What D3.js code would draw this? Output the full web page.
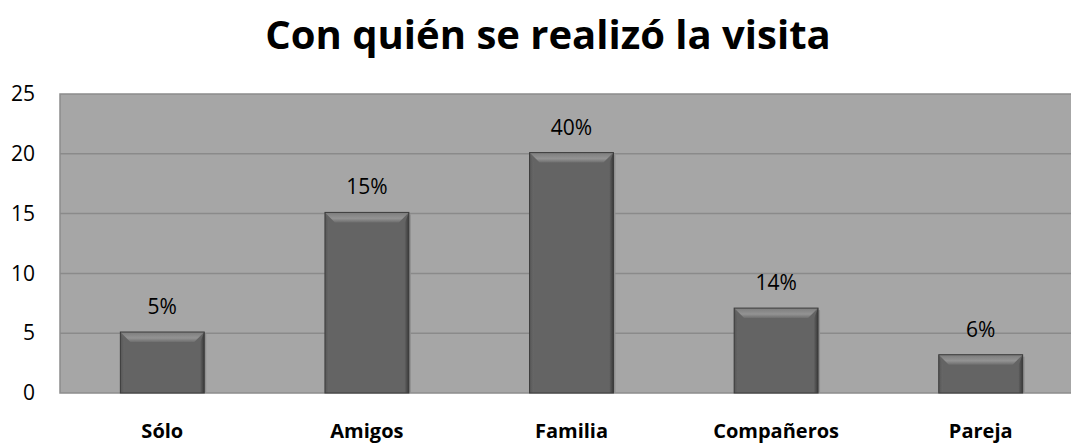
<!DOCTYPE html>
<html>
<head>
<meta charset="utf-8">
<script src="https://cdn.jsdelivr.net/npm/d3@7"></script>
<style>
  body { margin: 0; background: #fff; }
  svg { display: block; }
</style>
</head>
<body>
<div id="chart"></div>
<script>
// Data
const categories = ["Sólo", "Amigos", "Familia", "Compañeros", "Pareja"];
const counts = [5.1, 15.1, 20.1, 7.1, 3.2];
const percentLabels = ["5%", "15%", "40%", "14%", "6%"];
const yTicks = [0, 5, 10, 15, 20, 25];

const W = 1071, H = 446;
const margin = { top: 94, right: -12, bottom: 53, left: 60 };
const FONT = "'Open Sans', 'DejaVu Sans', sans-serif";

const svg = d3.select("#chart").append("svg")
  .attr("width", W)
  .attr("height", H);

const defs = svg.append("defs");

// bevel gradients
const topGrad = defs.append("linearGradient").attr("id", "bevelTop")
  .attr("x1", 0).attr("y1", 0).attr("x2", 0).attr("y2", 1);
topGrad.append("stop").attr("offset", "0%").attr("stop-color", "#7c7c7c");
topGrad.append("stop").attr("offset", "60%").attr("stop-color", "#939393");
topGrad.append("stop").attr("offset", "100%").attr("stop-color", "#6e6e6e");

const leftGrad = defs.append("linearGradient").attr("id", "bevelLeft")
  .attr("x1", 0).attr("y1", 0).attr("x2", 1).attr("y2", 0);
leftGrad.append("stop").attr("offset", "0%").attr("stop-color", "#565656");
leftGrad.append("stop").attr("offset", "100%").attr("stop-color", "#676767");

const rightGrad = defs.append("linearGradient").attr("id", "bevelRight")
  .attr("x1", 0).attr("y1", 0).attr("x2", 1).attr("y2", 0);
rightGrad.append("stop").attr("offset", "0%").attr("stop-color", "#606060");
rightGrad.append("stop").attr("offset", "100%").attr("stop-color", "#3a3a3a");

const x = d3.scaleBand()
  .domain(categories)
  .range([margin.left, W - margin.right])
  .paddingInner(0.59)
  .paddingOuter(0.295);

const y = d3.scaleLinear()
  .domain([0, 25])
  .range([H - margin.bottom, margin.top]);

// plot area
svg.append("rect")
  .attr("x", margin.left)
  .attr("y", y(25))
  .attr("width", W - margin.right - margin.left)
  .attr("height", y(0) - y(25))
  .attr("fill", "#a6a6a6")
  .attr("stroke", "#8c8c8c")
  .attr("stroke-width", 1.5);

// gridlines
svg.append("g")
  .selectAll("line")
  .data(yTicks.filter(d => d > 0 && d < 25))
  .join("line")
  .attr("x1", margin.left)
  .attr("x2", W - margin.right)
  .attr("y1", d => y(d))
  .attr("y2", d => y(d))
  .attr("stroke", "#8a8a8a")
  .attr("stroke-width", 1.5);

// y axis
const yAxis = svg.append("g")
  .attr("transform", `translate(${margin.left},0)`)
  .call(d3.axisLeft(y).tickValues(yTicks).tickSize(0).tickPadding(25));
yAxis.select(".domain").remove();
yAxis.selectAll("text")
  .attr("font-family", FONT)
  .attr("font-size", "21px")
  .attr("fill", "#000");

// x axis labels (kept just inside the bottom edge)
const xAxis = svg.append("g")
  .attr("transform", `translate(0,${y(0)})`)
  .call(d3.axisBottom(x).tickSize(0).tickPadding(31));
xAxis.select(".domain").remove();
xAxis.selectAll("text")
  .attr("font-family", FONT)
  .attr("font-weight", "bold")
  .attr("font-size", "20px")
  .attr("fill", "#000");

// bars with bevel
const bev = 10;
const bars = svg.append("g")
  .selectAll("g")
  .data(categories)
  .join("g");

bars.each(function(c, i) {
  const g = d3.select(this);
  const x0 = x(c), x1 = x(c) + x.bandwidth();
  const y0 = y(counts[i]), y1 = y(0);
  // shadow
  g.append("rect")
    .attr("x", x0 + 2).attr("y", y0 + 2)
    .attr("width", x1 - x0).attr("height", y1 - y0 - 2)
    .attr("fill", "#8f8f8f");
  g.append("rect")
    .attr("x", x0).attr("y", y0)
    .attr("width", x1 - x0).attr("height", y1 - y0)
    .attr("fill", "#646464");
  g.append("polygon")
    .attr("points", [[x0, y0], [x1, y0], [x1 - bev, y0 + bev], [x0 + bev, y0 + bev]].join(" "))
    .attr("fill", "url(#bevelTop)");
  g.append("polygon")
    .attr("points", [[x0, y0], [x0 + bev * 0.4, y0 + bev], [x0 + bev * 0.4, y1], [x0, y1]].join(" "))
    .attr("fill", "url(#bevelLeft)");
  g.append("polygon")
    .attr("points", [[x1, y0], [x1 - bev * 0.4, y0 + bev], [x1 - bev * 0.4, y1], [x1, y1]].join(" "))
    .attr("fill", "url(#bevelRight)");
  g.append("rect")
    .attr("x", x0).attr("y", y0)
    .attr("width", x1 - x0).attr("height", y1 - y0)
    .attr("fill", "none")
    .attr("stroke", "#3c3c3c")
    .attr("stroke-width", 1);
});

// value labels
svg.append("g")
  .selectAll("text")
  .data(categories)
  .join("text")
  .attr("x", c => x(c) + x.bandwidth() / 2)
  .attr("y", (c, i) => y(counts[i]) - 18)
  .attr("text-anchor", "middle")
  .attr("font-family", FONT)
  .attr("font-size", "21px")
  .attr("fill", "#000")
  .text((c, i) => percentLabels[i]);

// title
svg.append("text")
  .attr("x", 548)
  .attr("y", 49)
  .attr("text-anchor", "middle")
  .attr("font-family", FONT)
  .attr("font-weight", "bold")
  .attr("font-size", "40px")
  .attr("fill", "#000")
  .text("Con quién se realizó la visita");
</script>
</body>
</html>
